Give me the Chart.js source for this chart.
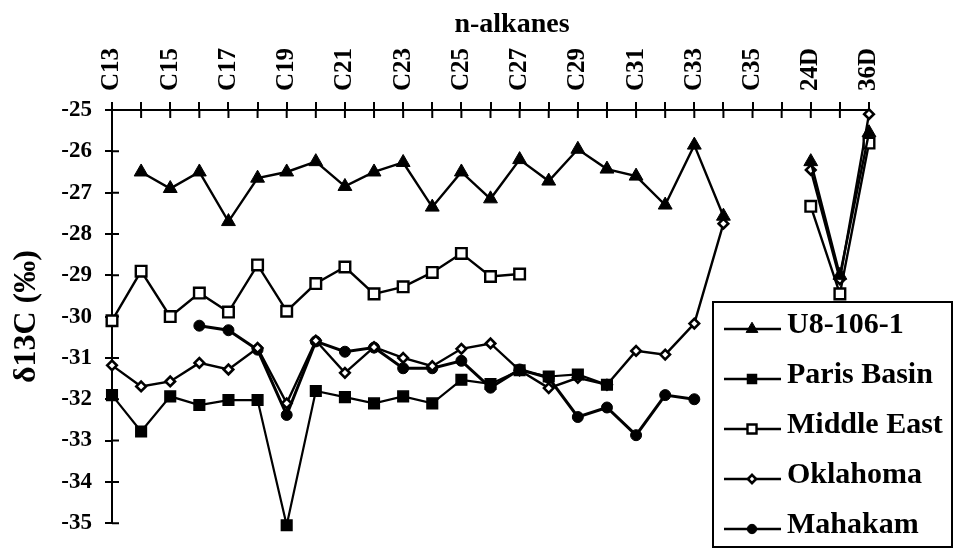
<!DOCTYPE html>
<html>
<head>
<meta charset="utf-8">
<script src="https://cdn.jsdelivr.net/npm/chart.js@4.4.0/dist/chart.umd.min.js"></script>
<style>
  html, body { margin: 0; padding: 0; background: #fff; }
</style>
</head>
<body>
<canvas id="grafico" width="958" height="550"></canvas>
<script>
// Categorías del eje X (n-alcanos y compuestos D)
const categorias = ['C13', 'C14', 'C15', 'C16', 'C17', 'C18', 'C19', 'C20', 'C21', 'C22',
  'C23', 'C24', 'C25', 'C26', 'C27', 'C28', 'C29', 'C30', 'C31', 'C32', 'C33', 'C34',
  'C35', 'C36', '24D', '', '36D'];

// Valores de δ13C (‰) por serie
const u8106 = [null, -26.5, -26.9, -26.5, -27.7, -26.65, -26.5, -26.25, -26.85, -26.5,
  -26.27, -27.35, -26.5, -27.15, -26.2, -26.72, -25.95, -26.43, -26.6, -27.3, -25.85, -27.57,
  null, null, -26.25, -29.0, -25.55];
const parisBasin = [-31.9, -32.78, -31.93, -32.14, -32.02, -32.02, -35.05, -31.8, -31.95, -32.1,
  -31.93, -32.1, -31.53, -31.63, -31.3, -31.45, -31.4, -31.65, null, null, null, null,
  null, null, null, null, null];
const middleEast = [-30.1, -28.9, -30.0, -29.43, -29.89, -28.75, -29.87, -29.2, -28.8, -29.45,
  -29.28, -28.93, -28.47, -29.03, -28.97, null, null, null, null, null, null, null,
  null, null, -27.33, -29.45, -25.8];
const oklahoma = [-31.18, -31.69, -31.57, -31.12, -31.28, -30.76, -32.1, -30.58, -31.36, -30.74,
  -31.0, -31.2, -30.78, -30.65, -31.3, -31.73, -31.48, -31.65, -30.83, -30.92, -30.17, -27.75,
  null, null, -26.45, -29.1, -25.1];
const mahakam = [null, null, null, -30.22, -30.33, -30.8, -32.38, -30.6, -30.85, -30.75,
  -31.25, -31.25, -31.07, -31.72, -31.28, -31.48, -32.43, -32.2, -32.87, -31.9, -32.0, null,
  null, null, null, null, null];

const fuente = '"Liberation Serif", "Times New Roman", serif';

/**
 * Marcas de los ejes que cruzan la línea (parte interior)
 */
const marcasInternas = {
  id: 'marcasInternas',
  beforeDatasetsDraw(chart) {
    const ctx = chart.ctx;
    const sx = chart.scales.x;
    const sy = chart.scales.y;
    const area = chart.chartArea;
    ctx.save();
    ctx.strokeStyle = '#000';
    ctx.lineWidth = 2;
    ctx.beginPath();
    sx.ticks.forEach((t, i) => {
      const px = sx.getPixelForTick(i);
      ctx.moveTo(px, area.top);
      ctx.lineTo(px, area.top + 8);
    });
    sy.ticks.forEach((t, i) => {
      const py = sy.getPixelForTick(i);
      ctx.moveTo(area.left, py);
      ctx.lineTo(area.left + 7, py);
    });
    ctx.stroke();
    ctx.restore();
  }
};

/**
 * Título superior y leyenda dentro del área
 */
const tituloYLeyenda = {
  id: 'tituloYLeyenda',
  afterDraw(chart) {
    const ctx = chart.ctx;
    ctx.save();
    ctx.fillStyle = '#000';
    ctx.font = 'bold 28px ' + fuente;
    ctx.textAlign = 'center';
    ctx.textBaseline = 'alphabetic';
    ctx.fillText('n-alkanes', 512, 32);

    // Caja de la leyenda
    ctx.fillStyle = '#fff';
    ctx.fillRect(713, 302, 239, 245);
    ctx.strokeStyle = '#000';
    ctx.lineWidth = 2;
    ctx.strokeRect(713, 302, 239, 245);

    chart.data.datasets.forEach((ds, i) => {
      const yc = 325 + i * 50;
      const yl = yc + 4;
      ctx.strokeStyle = '#000';
      ctx.lineWidth = 2.4;
      ctx.beginPath();
      ctx.moveTo(724, yl);
      ctx.lineTo(781, yl);
      ctx.stroke();
      ctx.fillStyle = ds.pointBackgroundColor;
      ctx.lineWidth = ds.pointBorderWidth;
      Chart.helpers.drawPoint(ctx, {
        pointStyle: ds.pointStyle,
        rotation: 0,
        radius: ds.pointRadius * 0.85,
        borderWidth: ds.pointBorderWidth
      }, 752, yl);
      ctx.fillStyle = '#000';
      ctx.font = 'bold 30px ' + fuente;
      ctx.textAlign = 'left';
      ctx.textBaseline = 'middle';
      ctx.fillText(ds.label, 787, yc);
    });
    ctx.restore();
  }
};

function serie(label, datos, estilo, radio, relleno, grosorBorde, grosorLinea) {
  return {
    label: label,
    data: datos,
    borderColor: '#000',
    borderWidth: grosorLinea,
    pointStyle: estilo,
    pointRadius: radio,
    pointBackgroundColor: relleno,
    pointBorderColor: '#000',
    pointBorderWidth: grosorBorde,
    tension: 0,
    clip: false,
    spanGaps: false
  };
}

new Chart(document.getElementById('grafico'), {
  type: 'line',
  data: {
    labels: categorias,
    datasets: [
      serie('U8-106-1', u8106, 'triangle', 8, '#000', 1, 2.4),
      serie('Paris Basin', parisBasin, 'rect', 7.5, '#000', 1.5, 2.2),
      serie('Middle East', middleEast, 'rect', 7.5, '#fff', 2.4, 2.4),
      serie('Oklahoma', oklahoma, 'rectRot', 4.8, '#fff', 2.6, 2.4),
      serie('Mahakam', mahakam, 'circle', 5.5, '#000', 1, 3)
    ]
  },
  options: {
    responsive: false,
    animation: false,
    layout: { padding: { left: 0, top: 0, right: 89, bottom: 23 } },
    plugins: {
      legend: { display: false },
      tooltip: { enabled: false }
    },
    scales: {
      x: {
        type: 'category',
        position: 'top',
        offset: false,
        grid: { drawOnChartArea: false, drawTicks: true, tickLength: 8, color: '#000', lineWidth: 2 },
        border: { display: true, color: '#000', width: 2 },
        ticks: {
          autoSkip: false,
          maxRotation: 90,
          minRotation: 90,
          padding: 11,
          labelOffset: 30,
          color: '#000',
          font: { family: fuente, size: 25, weight: 'bold', lineHeight: 1.2 },
          callback: (v, i) => (i % 2 === 0 ? categorias[i] : '')
        },
        afterFit: (s) => { s.height = 110; }
      },
      y: {
        min: -35,
        max: -25,
        grid: { drawOnChartArea: false, drawTicks: true, tickLength: 7, color: '#000', lineWidth: 2 },
        border: { display: true, color: '#000', width: 2 },
        ticks: {
          stepSize: 0.5,
          padding: 13,
          color: '#000',
          font: { family: fuente, size: 23, weight: 'bold' },
          callback: (v) => (Number.isInteger(v) ? String(v) : '')
        },
        title: {
          display: true,
          text: 'δ13C (‰)',
          color: '#000',
          font: { family: fuente, size: 32, weight: 'bold' },
          padding: { top: 8, bottom: 0 }
        },
        afterFit: (s) => { s.width = 112; }
      }
    }
  },
  plugins: [marcasInternas, tituloYLeyenda]
});
</script>
</body>
</html>
